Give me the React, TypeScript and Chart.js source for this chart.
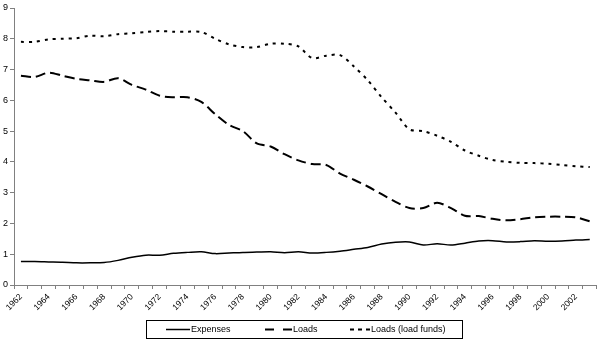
import React, { useEffect, useRef } from "react";
import { Chart, registerables } from "chart.js";

Chart.register(...registerables);

const years = [
  "1962","1963","1964","1965","1966","1967","1968","1969",
  "1970","1971","1972","1973","1974","1975","1976","1977","1978","1979",
  "1980","1981","1982","1983","1984","1985","1986","1987","1988","1989",
  "1990","1991","1992","1993","1994","1995","1996","1997","1998","1999",
  "2000","2001","2002","2003",
];

const expenses = [
  0.76, 0.76, 0.75, 0.74, 0.72, 0.72, 0.73, 0.8,
  0.9, 0.97, 0.97, 1.03, 1.06, 1.08, 1.02, 1.04, 1.06, 1.07,
  1.08, 1.05, 1.08, 1.04, 1.06, 1.1, 1.16, 1.22, 1.33, 1.39,
  1.4, 1.3, 1.34, 1.3, 1.36, 1.43, 1.44, 1.4, 1.41, 1.44,
  1.42, 1.43, 1.46, 1.48,
];

const loads = [
  6.8, 6.76, 6.9, 6.8, 6.7, 6.65, 6.6, 6.72,
  6.5, 6.35, 6.15, 6.1, 6.1, 5.95, 5.55, 5.2, 5.0, 4.6,
  4.5, 4.25, 4.05, 3.93, 3.9, 3.62, 3.42, 3.2, 2.95, 2.7,
  2.5, 2.5, 2.67, 2.5, 2.25, 2.24, 2.15, 2.1, 2.14, 2.2,
  2.22, 2.22, 2.2, 2.07,
];

const loadFunds = [
  7.9, 7.9, 7.98, 8.0, 8.02, 8.1, 8.08, 8.15,
  8.18, 8.22, 8.25, 8.23, 8.23, 8.22, 8.0, 7.82, 7.73, 7.73,
  7.84, 7.84, 7.75, 7.37, 7.45, 7.47, 7.1, 6.65, 6.1, 5.6,
  5.06, 5.0, 4.85, 4.65, 4.37, 4.2, 4.06, 4.0, 3.97, 3.96,
  3.94, 3.9, 3.86, 3.83,
];

const seriesNames = ["Expenses", "Loads", "Loads (load funds)"];

const FONT = "'Liberation Sans', Arial, sans-serif";

const legendPlugin = {
  id: "boxLegend",
  afterDraw(chart: any) {
    const ctx = chart.ctx;
    ctx.save();
    ctx.strokeStyle = "#000";
    ctx.lineWidth = 1;
    ctx.setLineDash([]);
    ctx.strokeRect(146.5, 320.5, 316, 18);
    const y = 329.5;
    const items = [
      { x0: 166, x1: 190, dash: [] as number[], w: 1.5, tx: 191 },
      { x0: 265, x1: 292, dash: [9, 9], w: 2, tx: 293 },
      { x0: 350, x1: 370, dash: [4, 4], w: 2, tx: 371 },
    ];
    ctx.font = "9px " + FONT;
    ctx.fillStyle = "#000";
    ctx.textBaseline = "middle";
    items.forEach((it, i) => {
      ctx.beginPath();
      ctx.setLineDash(it.dash);
      ctx.lineWidth = it.w;
      ctx.moveTo(it.x0, y);
      ctx.lineTo(it.x1, y);
      ctx.stroke();
      ctx.setLineDash([]);
      ctx.fillText(seriesNames[i], it.tx, y + 0.5);
    });
    ctx.restore();
  },
};

export default function App() {
  const ref = useRef<HTMLCanvasElement>(null);
  useEffect(() => {
    if (!ref.current) return;
    const chart = new Chart(ref.current, {
      type: "line",
      data: {
        labels: years,
        datasets: [
          {
            label: seriesNames[0],
            data: expenses,
            borderColor: "#000",
            borderWidth: 1.5,
            pointRadius: 0,
            tension: 0.3,
            fill: false,
          },
          {
            label: seriesNames[1],
            data: loads,
            borderColor: "#000",
            borderWidth: 2,
            borderDash: [10, 5],
            pointRadius: 0,
            tension: 0.3,
            fill: false,
          },
          {
            label: seriesNames[2],
            data: loadFunds,
            borderColor: "#000",
            borderWidth: 2,
            borderDash: [3, 5],
            pointRadius: 0,
            tension: 0.3,
            fill: false,
          },
        ],
      },
      options: {
        responsive: false,
        animation: false,
        layout: { padding: { top: 8, right: 3, left: 0, bottom: 0 } },
        plugins: {
          legend: { display: false },
          tooltip: { enabled: false },
        },
        scales: {
          x: {
            type: "category",
            offset: true,
            grid: {
              offset: true,
              drawOnChartArea: false,
              tickLength: 4,
              color: "#808080",
            },
            border: { color: "#808080", width: 1 },
            ticks: {
              autoSkip: false,
              maxRotation: 45,
              minRotation: 45,
              padding: 3,
              color: "#000",
              font: { family: FONT, size: 8.5 },
              callback: (_v: any, i: number) => (i % 2 === 0 ? years[i] : ""),
            },
            afterFit: (scale: any) => {
              scale.height = 57;
            },
          },
          y: {
            min: 0,
            max: 9,
            ticks: {
              stepSize: 1,
              padding: 2,
              color: "#000",
              font: { family: FONT, size: 9 },
            },
            grid: {
              drawOnChartArea: false,
              tickLength: 4,
              color: "#808080",
            },
            border: { color: "#808080", width: 1 },
            afterFit: (scale: any) => {
              scale.width = 14;
            },
          },
        },
      },
      plugins: [legendPlugin],
    });
    return () => chart.destroy();
  }, []);
  return (
    <div style={{ position: "fixed", left: 0, top: 0, width: 600, height: 342, background: "#fff" }}>
      <canvas ref={ref} width={600} height={342} />
    </div>
  );
}
